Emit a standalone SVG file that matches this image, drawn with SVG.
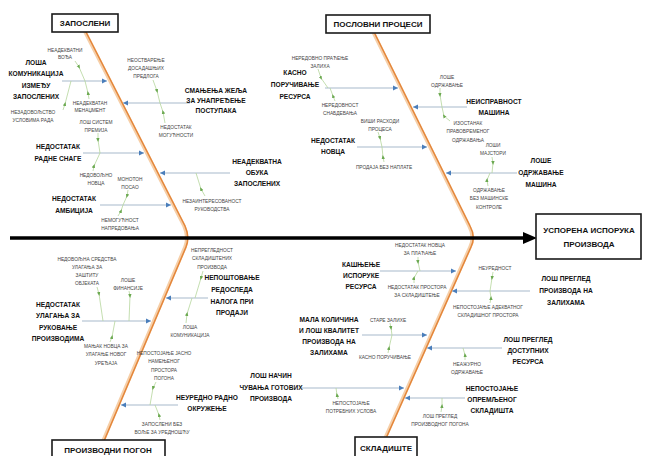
<svg xmlns="http://www.w3.org/2000/svg" width="645" height="456" viewBox="0 0 645 456">
<defs>
<marker id="ab" markerUnits="userSpaceOnUse" markerWidth="6" markerHeight="6" refX="5" refY="3" orient="auto"><path d="M0,0.6 L5,3 L0,5.4 z" fill="#4a7ebb"/></marker>
<marker id="ag" markerUnits="userSpaceOnUse" markerWidth="4" markerHeight="4" refX="2" refY="2" orient="auto"><path d="M0,0.3 L4,2 L0,3.7 z" fill="#6aa84f"/></marker>
<style>
.t{font-family:"Liberation Sans",Arial,sans-serif;text-anchor:middle}
.b{font-size:6.6px;font-weight:bold;fill:#111}
.s{font-size:4.8px;fill:#444}
.h{font-size:8px;font-weight:bold;fill:#111}
.box{fill:#fff;stroke:#1a1a1a;stroke-width:1.6}
.rib{stroke:#a7b9cb;stroke-width:1;fill:none;marker-end:url(#ab)}
.sub{stroke:#b5d69c;stroke-width:0.8;fill:none;marker-mid:url(#ag)}
.bl{fill:none;stroke:#f6cfa8;stroke-width:3.5;stroke-linecap:round}
.bo{fill:none;stroke:#e4863a;stroke-width:1.5;stroke-linecap:round}
</style>
</defs>
<rect width="645" height="456" fill="#fff"/>

<g id="connectors">
  <path class="bl" d="M85,32 L184,226 Q189,237 185,247 L103,441"/>
  <path class="bo" d="M86,32 L185,226 Q190,237 186,247 L104,441"/>
  <path class="bl" d="M374,34 L469,226 Q475,237 470,247 L386,436"/>
  <path class="bo" d="M375,34 L470,226 Q476,237 471,247 L387,436"/>
  <line x1="10" y1="238" x2="527" y2="238" stroke="#000" stroke-width="3.5"/>
  <polygon points="523,232 537,238 523,244" fill="#000"/>

  <line class="rib" x1="62" y1="81" x2="107" y2="81"/>
  <line class="rib" x1="190" y1="103" x2="123" y2="103"/>
  <line class="rib" x1="83" y1="153" x2="144" y2="153"/>
  <line class="rib" x1="230" y1="173" x2="160" y2="173"/>
  <line class="rib" x1="100" y1="205" x2="171" y2="205"/>
  <line class="rib" x1="325" y1="88" x2="398" y2="88"/>
  <line class="rib" x1="357" y1="147" x2="427" y2="147"/>
  <line class="rib" x1="467" y1="107" x2="413" y2="107"/>
  <line class="rib" x1="517" y1="173" x2="446" y2="173"/>
  <line class="rib" x1="82" y1="321" x2="151" y2="321"/>
  <line class="rib" x1="208" y1="298" x2="166" y2="298"/>
  <line class="rib" x1="178" y1="405" x2="121" y2="405"/>
  <line class="rib" x1="380" y1="271" x2="456" y2="271"/>
  <line class="rib" x1="530" y1="291" x2="452" y2="291"/>
  <line class="rib" x1="362" y1="335" x2="427" y2="335"/>
  <line class="rib" x1="502" y1="348" x2="427" y2="348"/>
  <line class="rib" x1="302" y1="388" x2="404" y2="388"/>
  <line class="rib" x1="465" y1="398" x2="405" y2="398"/>

  <polyline class="sub" points="75,61 79,67 85,81"/>
  <polyline class="sub" points="89,99 88,93 85,81"/>
  <polyline class="sub" points="63,110 65,104 71,81"/>
  <polyline class="sub" points="153,80 157,91 160,103"/>
  <polyline class="sub" points="165,123 163,112 160,103"/>
  <polyline class="sub" points="98,133 98,140 100,153"/>
  <polyline class="sub" points="93,171 94,166 100,153"/>
  <polyline class="sub" points="128,190 127,196 123,205"/>
  <polyline class="sub" points="118,216 121,211 123,205"/>
  <polyline class="sub" points="205,196 201,189 196,173"/>
  <polyline class="sub" points="318,69 321,78 328,88"/>
  <polyline class="sub" points="335,101 333,96 330,88"/>
  <polyline class="sub" points="378,132 380,138 382,147"/>
  <polyline class="sub" points="384,162 383,157 382,147"/>
  <polyline class="sub" points="440,88 440,95 442,107"/>
  <polyline class="sub" points="450,121 444,116 442,107"/>
  <polyline class="sub" points="492,157 493,163 492,173"/>
  <polyline class="sub" points="488,186 487,180 490,173"/>
  <polyline class="sub" points="97,287 99,294 103,321"/>
  <polyline class="sub" points="129,291 130,296 129,321"/>
  <polyline class="sub" points="110,342 112,337 115,321"/>
  <polyline class="sub" points="203,271 201,278 195,298"/>
  <polyline class="sub" points="186,323 187,314 192,298"/>
  <polyline class="sub" points="156,382 153,388 150,405"/>
  <polyline class="sub" points="160,420 159,415 155,405"/>
  <polyline class="sub" points="418,257 418,262 420,271"/>
  <polyline class="sub" points="414,283 414,278 418,271"/>
  <polyline class="sub" points="493,272 492,278 490,291"/>
  <polyline class="sub" points="490,303 491,298 490,291"/>
  <polyline class="sub" points="390,323 391,328 392,335"/>
  <polyline class="sub" points="388,353 389,348 392,335"/>
  <polyline class="sub" points="465,360 465,355 463,348"/>
  <polyline class="sub" points="338,399 337,395 336,388"/>
  <polyline class="sub" points="441,412 442,406 442,398"/>
</g>

<g id="cat-zaposleni"><rect class="box" x="52" y="14" width="66" height="18"/><text class="t h" x="85" y="26">ЗАПОСЛЕНИ</text></g>
<g id="cat-procesi"><rect class="box" x="326" y="15" width="104" height="18"/><text class="t h" x="378" y="27">ПОСЛОВНИ ПРОЦЕСИ</text></g>
<g id="effect"><rect class="box" x="536" y="214" width="105" height="45"/><text class="t h"><tspan x="589" y="233">УСПОРЕНА ИСПОРУКА</tspan><tspan x="589" y="247">ПРОИЗВОДА</tspan></text></g>
<g id="cat-pogon"><rect class="box" x="52" y="440" width="113" height="24"/><text class="t h" x="108" y="453">ПРОИЗВОДНИ ПОГОН</text></g>
<g id="cat-skladiste"><rect class="box" x="355" y="437" width="62" height="24"/><text class="t h" x="386" y="451">СКЛАДИШТЕ</text></g>

<g id="c-komunikacija"><text class="t b"><tspan x="36" y="64.5">ЛОША</tspan><tspan x="36" y="76">КОМУНИКАЦИЈА</tspan><tspan x="36" y="87.5">ИЗМЕЂУ</tspan><tspan x="36" y="99">ЗАПОСЛЕНИХ</tspan></text></g>
<g id="s-voda"><text class="t s"><tspan x="65" y="51.5">НЕАДЕКВАТНИ</tspan><tspan x="65" y="58.5">ВОЂА</tspan></text></g>
<g id="s-nezadovoljstvo"><text class="t s"><tspan x="33" y="114">НЕЗАДОВОЉСТВО</tspan><tspan x="33" y="122">УСЛОВИМА РАДА</tspan></text></g>
<g id="s-menadzment"><text class="t s"><tspan x="90" y="104.5">НЕАДЕКВАТАН</tspan><tspan x="90" y="111.5">МЕНАЏМЕНТ</tspan></text></g>
<g id="c-zelja"><text class="t b"><tspan x="216" y="92.5">СМАЊЕЊА ЖЕЉА</tspan><tspan x="216" y="102.5">ЗА УНАПРЕЂЕЊЕ</tspan><tspan x="216" y="112.5">ПОСТУПАКА</tspan></text></g>
<g id="s-predlozi"><text class="t s"><tspan x="146" y="61.5">НЕОСТВАРЕЊЕ</tspan><tspan x="146" y="69.5">ДОСАДАШЊИХ</tspan><tspan x="146" y="78">ПРЕДЛОГА</tspan></text></g>
<g id="s-mogucnosti"><text class="t s"><tspan x="176" y="128.5">НЕДОСТАТАК</tspan><tspan x="176" y="136.5">МОГУЋНОСТИ</tspan></text></g>
<g id="c-snaga"><text class="t b"><tspan x="58" y="148.5">НЕДОСТАТАК</tspan><tspan x="58" y="160.5">РАДНЕ СНАГЕ</tspan></text></g>
<g id="s-premije"><text class="t s"><tspan x="96" y="123.5">ЛОШ СИСТЕМ</tspan><tspan x="96" y="131.5">ПРЕМИЈА</tspan></text></g>
<g id="s-novac1"><text class="t s"><tspan x="96" y="176.5">НЕДОВОЉНО</tspan><tspan x="96" y="184.5">НОВЦА</tspan></text></g>
<g id="c-obuka"><text class="t b"><tspan x="257" y="163.5">НЕАДЕКВАТНА</tspan><tspan x="257" y="174.5">ОБУКА</tspan><tspan x="257" y="185.5">ЗАПОСЛЕНИХ</tspan></text></g>
<g id="s-rukovodstvo"><text class="t s"><tspan x="212" y="202.5">НЕЗАИНТЕРЕСОВАНОСТ</tspan><tspan x="212" y="210.5">РУКОВОДСТВА</tspan></text></g>
<g id="c-ambicija"><text class="t b"><tspan x="74" y="200.5">НЕДОСТАТАК</tspan><tspan x="74" y="212.5">АМБИЦИЈА</tspan></text></g>
<g id="s-monoton"><text class="t s"><tspan x="130" y="180.5">МОНОТОН</tspan><tspan x="130" y="188.5">ПОСАО</tspan></text></g>
<g id="s-napredovanje"><text class="t s"><tspan x="120" y="221.5">НЕМОГУЋНОСТ</tspan><tspan x="120" y="229.5">НАПРЕДОВАЊА</tspan></text></g>

<g id="c-kasno"><text class="t b"><tspan x="295" y="74.5">КАСНО</tspan><tspan x="295" y="86.5">ПОРУЧИВАЊЕ</tspan><tspan x="295" y="98.5">РЕСУРСА</tspan></text></g>
<g id="s-zalihe"><text class="t s"><tspan x="320" y="59.5">НЕРЕДОВНО ПРАЋЕЊЕ</tspan><tspan x="320" y="67.5">ЗАЛИХА</tspan></text></g>
<g id="s-objekat"><text class="t s"><tspan x="340" y="106.5">НЕРЕДОВНОСТ</tspan><tspan x="340" y="114.5">СНАБДЕВАЊА</tspan></text></g>
<g id="c-novac"><text class="t b"><tspan x="333" y="142.5">НЕДОСТАТАК</tspan><tspan x="333" y="153.5">НОВЦА</tspan></text></g>
<g id="s-rashodi"><text class="t s"><tspan x="380" y="122.5">ВИШИ РАСХОДИ</tspan><tspan x="380" y="130.5">ПРОЦЕСА</tspan></text></g>
<g id="s-naplata"><text class="t s"><tspan x="384" y="168.5">ПРОДАЈА БЕЗ НАПЛАТЕ</tspan></text></g>
<g id="c-neispravnost"><text class="t b"><tspan x="494" y="103.5">НЕИСПРАВНОСТ</tspan><tspan x="494" y="115">МАШИНА</tspan></text></g>
<g id="s-odrzavanje"><text class="t s"><tspan x="447" y="78.5">ЛОШЕ</tspan><tspan x="447" y="86.5">ОДРЖАВАЊЕ</tspan></text></g>
<g id="s-izostanak"><text class="t s"><tspan x="468" y="124.5">ИЗОСТАНАК</tspan><tspan x="468" y="133">ПРАВОВРЕМЕНОГ</tspan><tspan x="468" y="141.5">ОДРЖАВАЊА</tspan></text></g>
<g id="c-odrzavanje"><text class="t b"><tspan x="541" y="162.5">ЛОШЕ</tspan><tspan x="541" y="175">ОДРЖАВАЊЕ</tspan><tspan x="541" y="187">МАШИНА</tspan></text></g>
<g id="s-majstori"><text class="t s"><tspan x="493" y="146.5">ЛОШИ</tspan><tspan x="493" y="154.5">МАЈСТОРИ</tspan></text></g>
<g id="s-kontrola"><text class="t s"><tspan x="489" y="191.5">ОДРЖАВАЊЕ</tspan><tspan x="489" y="200">БЕЗ МАШИНСКЕ</tspan><tspan x="489" y="208.5">КОНТРОЛЕ</tspan></text></g>

<g id="c-ulaganja"><text class="t b"><tspan x="58" y="306.5">НЕДОСТАТАК</tspan><tspan x="58" y="318">УЛАГАЊА ЗА</tspan><tspan x="58" y="329.5">РУКОВАЊЕ</tspan><tspan x="58" y="341">ПРОИЗВОДИМА</tspan></text></g>
<g id="s-zastita"><text class="t s"><tspan x="87" y="260.5">НЕДОВОЉНА СРЕДСТВА</tspan><tspan x="87" y="269">УЛАГАЊА ЗА</tspan><tspan x="87" y="277">ЗАШТИТУ</tspan><tspan x="87" y="285">ОБЈЕКАТА</tspan></text></g>
<g id="s-finansije"><text class="t s"><tspan x="128" y="281.5">ЛОШЕ</tspan><tspan x="128" y="289.5">ФИНАНСИЈЕ</tspan></text></g>
<g id="s-uredjaj"><text class="t s"><tspan x="106" y="347.5">МАЊАК НОВЦА ЗА</tspan><tspan x="106" y="356">УЛАГАЊЕ НОВОГ</tspan><tspan x="106" y="364.5">УРЕЂАЈА</tspan></text></g>
<g id="c-redosled"><text class="t b"><tspan x="232" y="279.5">НЕПОШТОВАЊЕ</tspan><tspan x="232" y="291.5">РЕДОСЛЕДА</tspan><tspan x="232" y="303.5">НАЛОГА ПРИ</tspan><tspan x="232" y="315">ПРОДАЈИ</tspan></text></g>
<g id="s-pregled"><text class="t s"><tspan x="212" y="251.5">НЕПРЕГЛЕДНОСТ</tspan><tspan x="212" y="260">СКЛАДИШТЕНИХ</tspan><tspan x="212" y="268.5">ПРОИЗВОДА</tspan></text></g>
<g id="s-komunikacija2"><text class="t s"><tspan x="190" y="328.5">ЛОША</tspan><tspan x="190" y="336.5">КОМУНИКАЦИЈА</tspan></text></g>
<g id="c-okruzenje"><text class="t b"><tspan x="207" y="399.5">НЕУРЕДНО РАДНО</tspan><tspan x="207" y="410.5">ОКРУЖЕЊЕ</tspan></text></g>
<g id="s-prostor"><text class="t s"><tspan x="164" y="354.5">НЕПОСТОЈАЊЕ ЈАСНО</tspan><tspan x="164" y="363">НАМЕЊЕНОГ</tspan><tspan x="164" y="371.5">ПРОСТОРА</tspan><tspan x="164" y="380">ПОГОНА</tspan></text></g>
<g id="s-volja"><text class="t s"><tspan x="162" y="425.5">ЗАПОСЛЕНИ БЕЗ</tspan><tspan x="162" y="434">ВОЉЕ ЗА УРЕДНОШЋУ</tspan></text></g>

<g id="c-kasnjenje"><text class="t b"><tspan x="361" y="266.5">КАШЊЕЊЕ</tspan><tspan x="361" y="277.5">ИСПОРУКЕ</tspan><tspan x="361" y="288.5">РЕСУРСА</tspan></text></g>
<g id="s-placanje"><text class="t s"><tspan x="420" y="246.5">НЕДОСТАТАК НОВЦА</tspan><tspan x="420" y="254.5">ЗА ПЛАЋАЊЕ</tspan></text></g>
<g id="s-skladistenje"><text class="t s"><tspan x="417" y="288.5">НЕДОСТАТАК ПРОСТОРА</tspan><tspan x="417" y="296.5">ЗА СКЛАДИШТЕЊЕ</tspan></text></g>
<g id="c-pregled-zaliha"><text class="t b"><tspan x="566" y="280.5">ЛОШ ПРЕГЛЕД</tspan><tspan x="566" y="292.5">ПРОИЗВОДА НА</tspan><tspan x="566" y="304.5">ЗАЛИХАМА</tspan></text></g>
<g id="s-neurednost"><text class="t s"><tspan x="495" y="269.5">НЕУРЕДНОСТ</tspan></text></g>
<g id="s-adekvatan"><text class="t s"><tspan x="488" y="308.5">НЕПОСТОЈАЊЕ АДЕКВАТНОГ</tspan><tspan x="488" y="317">СКЛАДИШНОГ ПРОСТОРА</tspan></text></g>
<g id="c-kolicina"><text class="t b"><tspan x="329" y="321.5">МАЛА КОЛИЧИНА</tspan><tspan x="329" y="332.5">И ЛОШ КВАЛИТЕТ</tspan><tspan x="329" y="343.5">ПРОИЗВОДА НА</tspan><tspan x="329" y="354.5">ЗАЛИХАМА</tspan></text></g>
<g id="s-stare"><text class="t s"><tspan x="388" y="321.5">СТАРЕ ЗАЛИХЕ</tspan></text></g>
<g id="s-kasno2"><text class="t s"><tspan x="385" y="358.5">КАСНО ПОРУЧИВАЊЕ</tspan></text></g>
<g id="c-dostupni"><text class="t b"><tspan x="528" y="341.5">ЛОШ ПРЕГЛЕД</tspan><tspan x="528" y="352.5">ДОСТУПНИХ</tspan><tspan x="528" y="363.5">РЕСУРСА</tspan></text></g>
<g id="s-azurno"><text class="t s"><tspan x="467" y="365.5">НЕАЖУРНО</tspan><tspan x="467" y="373.5">ОДРЖАВАЊЕ</tspan></text></g>
<g id="c-cuvanje"><text class="t b"><tspan x="271" y="377.5">ЛОШ НАЧИН</tspan><tspan x="271" y="389.5">ЧУВАЊА ГОТОВИХ</tspan><tspan x="271" y="401">ПРОИЗВОДА</tspan></text></g>
<g id="s-uslovi"><text class="t s"><tspan x="351" y="404.5">НЕПОСТОЈАЊЕ</tspan><tspan x="351" y="412.5">ПОТРЕБНИХ УСЛОВА</tspan></text></g>
<g id="c-opremljeno"><text class="t b"><tspan x="492" y="390.5">НЕПОСТОЈАЊЕ</tspan><tspan x="492" y="401.5">ОПРЕМЉЕНОГ</tspan><tspan x="492" y="412.5">СКЛАДИШТА</tspan></text></g>
<g id="s-pogon"><text class="t s"><tspan x="440" y="417.5">ЛОШ ПРЕГЛЕД</tspan><tspan x="440" y="426">ПРОИЗВОДНОГ ПОГОНА</tspan></text></g>
</svg>
